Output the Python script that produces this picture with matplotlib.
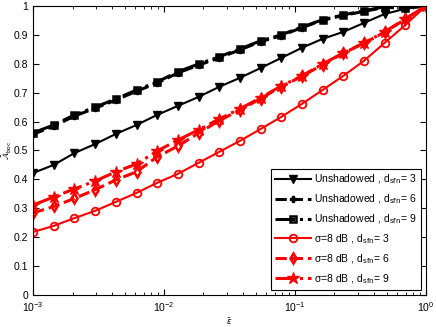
import numpy as np
import matplotlib
matplotlib.use('Agg')
import matplotlib.pyplot as plt

plt.rcParams['font.family'] = ['Liberation Sans', 'DejaVu Sans']
plt.rcParams['mathtext.fontset'] = 'dejavusans'

# 20 points, log spaced over 1e-3 .. 1
eps = np.logspace(-3, 0, 20)

unsh_d3 = [0.422, 0.450, 0.491, 0.522, 0.557, 0.588, 0.623, 0.654, 0.685, 0.720,
           0.751, 0.785, 0.820, 0.855, 0.886, 0.910, 0.941, 0.972, 0.990, 1.0]
unsh_d6 = [0.556, 0.584, 0.619, 0.646, 0.674, 0.705, 0.733, 0.768, 0.795, 0.820,
           0.848, 0.876, 0.897, 0.925, 0.950, 0.967, 0.981, 0.995, 0.992, 1.0]
unsh_d9 = [0.561, 0.588, 0.623, 0.650, 0.678, 0.709, 0.737, 0.772, 0.799, 0.824,
           0.851, 0.879, 0.900, 0.927, 0.952, 0.969, 0.983, 0.997, 0.993, 1.0]
sig_d3 = [0.218, 0.239, 0.266, 0.291, 0.322, 0.353, 0.388, 0.419, 0.457, 0.495,
          0.533, 0.574, 0.616, 0.661, 0.709, 0.758, 0.810, 0.872, 0.934, 1.0]
sig_d6 = [0.284, 0.306, 0.334, 0.364, 0.398, 0.426, 0.478, 0.515, 0.560, 0.603,
          0.640, 0.679, 0.721, 0.756, 0.797, 0.836, 0.871, 0.909, 0.954, 1.0]
sig_d9 = [0.311, 0.339, 0.367, 0.394, 0.426, 0.453, 0.498, 0.536, 0.571, 0.609,
          0.644, 0.682, 0.723, 0.758, 0.799, 0.837, 0.872, 0.910, 0.955, 1.0]

labels = ['Unshadowed , d$_{\\rm sfn}$= 3', 'Unshadowed , d$_{\\rm sfn}$= 6',
          'Unshadowed , d$_{\\rm sfn}$= 9', '\u03c3=8 dB , d$_{\\rm sfn}$= 3',
          '\u03c3=8 dB , d$_{\\rm sfn}$= 6', '\u03c3=8 dB , d$_{\\rm sfn}$= 9']

fig = plt.figure(figsize=(4.36, 3.27), dpi=100)
ax = fig.add_axes([0.076, 0.098, 0.901, 0.884])

ax.semilogx(eps, unsh_d3, 'k-', marker='v', ms=5.5, lw=1.5, label=labels[0])
ax.semilogx(eps, unsh_d6, 'k--', marker='P', ms=4.5, lw=2.2, label=labels[1])
ax.semilogx(eps, unsh_d9, 'k-.', marker='s', ms=4.5, mfc='none', mew=1.8, lw=2.2, label=labels[2])
ax.semilogx(eps, sig_d3, 'r-', marker='o', ms=5.5, mfc='none', mew=1.3, lw=1.5, label=labels[3])
ax.semilogx(eps, sig_d6, 'r--', marker='d', ms=5.5, mfc='none', mew=1.8, lw=2.2, label=labels[4])
ax.semilogx(eps, sig_d9, 'r-.', marker='*', ms=9, lw=2.2, label=labels[5])

ax.set_xlim(1e-3, 1)
ax.set_ylim(0, 1)
ax.set_yticks(np.arange(0, 1.01, 0.1))
ax.set_yticklabels(['0', '0.1', '0.2', '0.3', '0.4', '0.5', '0.6', '0.7', '0.8', '0.9', '1'])
ax.tick_params(which='both', direction='in', top=True, right=True, labelsize=7.5)
ax.tick_params(which='major', length=4)
ax.tick_params(which='minor', length=2)
for s in ax.spines.values():
    s.set_linewidth(0.8)

ax.set_xlabel('$\\bar{\\epsilon}$', fontsize=6, labelpad=2)
ax.set_ylabel('$\\bar{\\mathcal{A}}_{\\rm boc}$', fontsize=6)
ax.yaxis.set_label_coords(-0.048, 0.5)

leg = ax.legend(loc='lower right', fontsize=7.5, handlelength=3.4, fancybox=False,
                edgecolor='k', framealpha=1, borderaxespad=0.5, labelspacing=0.6,
                handletextpad=0.3)
leg.get_frame().set_linewidth(0.8)

fig.savefig('out.png', dpi=100)
